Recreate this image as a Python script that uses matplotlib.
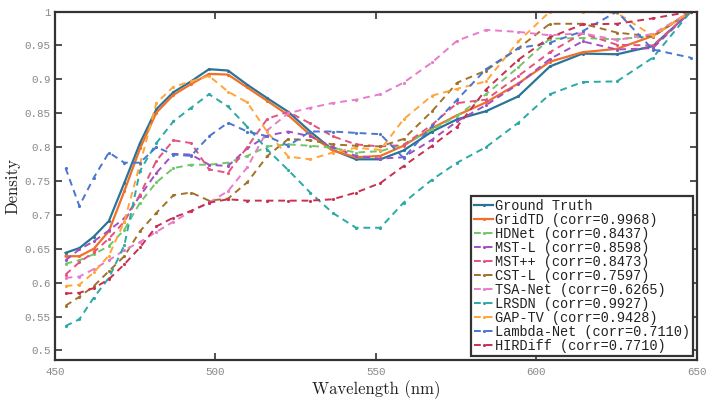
import matplotlib
matplotlib.use("Agg")
import matplotlib.pyplot as plt
from matplotlib.ticker import FixedLocator, FuncFormatter

wavelengths = [453.3, 457.6, 462.1, 466.8, 471.6, 476.5, 481.6, 486.9, 492.4, 498.0,
               503.9, 509.9, 516.2, 522.7, 529.5, 536.5, 543.8, 551.4, 558.6, 567.5,
               575.3, 584.3, 594.4, 604.2, 614.4, 625.1, 636.3, 648.1]

ground_truth = [0.644, 0.651, 0.668, 0.691, 0.747, 0.806, 0.856, 0.881, 0.897, 0.915,
                0.913, 0.892, 0.872, 0.852, 0.823, 0.796, 0.782, 0.782, 0.795, 0.823,
                0.841, 0.853, 0.875, 0.919, 0.938, 0.937, 0.949, 1.0]
gridtd = [0.639, 0.639, 0.650, 0.676, 0.735, 0.798, 0.851, 0.877, 0.893, 0.908,
          0.907, 0.888, 0.868, 0.847, 0.818, 0.795, 0.785, 0.787, 0.802, 0.828,
          0.847, 0.866, 0.894, 0.926, 0.940, 0.945, 0.964, 1.0]
hdnet = [0.628, 0.633, 0.642, 0.654, 0.678, 0.718, 0.748, 0.769, 0.774, 0.774,
         0.777, 0.787, 0.801, 0.804, 0.802, 0.799, 0.792, 0.794, 0.804, 0.826,
         0.846, 0.878, 0.918, 0.960, 0.961, 0.959, 0.964, 1.0]
mst_l = [0.633, 0.649, 0.661, 0.677, 0.695, 0.728, 0.762, 0.790, 0.789, 0.774,
         0.772, 0.798, 0.817, 0.823, 0.816, 0.800, 0.787, 0.783, 0.785, 0.811,
         0.838, 0.862, 0.893, 0.930, 0.956, 0.944, 0.946, 1.0]
mst_pp = [0.612, 0.630, 0.645, 0.665, 0.690, 0.730, 0.780, 0.810, 0.806, 0.767,
          0.762, 0.800, 0.842, 0.852, 0.835, 0.816, 0.804, 0.801, 0.803, 0.833,
          0.865, 0.870, 0.905, 0.940, 0.968, 0.951, 0.950, 1.0]
cst_l = [0.566, 0.579, 0.595, 0.617, 0.639, 0.676, 0.703, 0.729, 0.733, 0.721,
         0.724, 0.748, 0.787, 0.812, 0.810, 0.804, 0.802, 0.801, 0.812, 0.853,
         0.895, 0.913, 0.946, 0.982, 0.982, 0.969, 0.963, 1.0]
tsa_net = [0.607, 0.609, 0.620, 0.633, 0.648, 0.660, 0.675, 0.690, 0.705, 0.718,
           0.735, 0.770, 0.825, 0.850, 0.858, 0.865, 0.870, 0.878, 0.895, 0.925,
           0.957, 0.973, 0.970, 0.965, 0.968, 0.958, 0.967, 1.0]
lrsdn = [0.536, 0.546, 0.578, 0.607, 0.655, 0.765, 0.806, 0.838, 0.858, 0.878,
         0.860, 0.830, 0.796, 0.766, 0.733, 0.703, 0.681, 0.681, 0.718, 0.752,
         0.777, 0.800, 0.836, 0.878, 0.896, 0.897, 0.932, 1.0]
gap_tv = [0.595, 0.597, 0.615, 0.640, 0.690, 0.775, 0.865, 0.889, 0.897, 0.905,
          0.882, 0.866, 0.822, 0.786, 0.782, 0.792, 0.799, 0.796, 0.841, 0.876,
          0.886, 0.897, 0.956, 1.0, 1.0, 0.998, 0.964, 1.0]
lambda_net = [0.769, 0.713, 0.755, 0.792, 0.777, 0.777, 0.800, 0.789, 0.787, 0.816,
              0.836, 0.823, 0.816, 0.802, 0.823, 0.823, 0.821, 0.819, 0.784, 0.831,
              0.870, 0.915, 0.946, 0.954, 0.971, 1.0, 0.944, 0.932]
hirdiff = [0.584, 0.585, 0.592, 0.605, 0.627, 0.652, 0.683, 0.696, 0.706, 0.718,
           0.723, 0.721, 0.721, 0.721, 0.721, 0.723, 0.733, 0.747, 0.772, 0.802,
           0.830, 0.885, 0.929, 0.962, 0.981, 0.982, 0.990, 1.0]

labels = ["Ground Truth", "GridTD (corr=0.9968)", "HDNet (corr=0.8437)",
          "MST-L (corr=0.8598)", "MST++ (corr=0.8473)", "CST-L (corr=0.7597)",
          "TSA-Net (corr=0.6265)", "LRSDN (corr=0.9927)", "GAP-TV (corr=0.9428)",
          "Lambda-Net (corr=0.7110)", "HIRDiff (corr=0.7710)"]
series = [ground_truth, gridtd, hdnet, mst_l, mst_pp, cst_l, tsa_net, lrsdn,
          gap_tv, lambda_net, hirdiff]
colors = ["#2a7597", "#f26f2a", "#72c66a", "#a24fc6", "#e4527e", "#a0722a",
          "#e77ccb", "#2aa9a7", "#ffa53a", "#4a76cf", "#c7304f"]
styles = ["-", "-", "--", "--", "--", "--", "--", "--", "--", "--", "--"]

y_ticks = [0.5, 0.55, 0.6, 0.65, 0.7, 0.75, 0.8, 0.85, 0.9, 0.95, 1.0]
x_ticks = [450, 500, 550, 600, 650]

fig = plt.figure(figsize=(7.14, 3.99), dpi=100)
ax = fig.add_axes([0.077, 0.098, 0.899, 0.873])

for ys, lab, c, ls in zip(series, labels, colors, styles):
    lw = 1.6 if ls == "-" else 1.4
    ax.plot(wavelengths, ys, linestyle=ls, color=c, lw=lw, marker='.',
            markersize=2.5, label=lab, dashes=(3.5, 2.5) if ls == "--" else (None, None))

ax.set_xlim(450, 650)
ax.set_ylim(0.486, 1.0)
ax.xaxis.set_major_locator(FixedLocator(x_ticks))
ax.yaxis.set_major_locator(FixedLocator(y_ticks))
ax.yaxis.set_major_formatter(FuncFormatter(lambda v, p: "%g" % v))
ax.xaxis.set_major_formatter(FuncFormatter(lambda v, p: "%g" % v))

ax.tick_params(direction='in', length=5, width=1.2, top=True, right=True,
               colors='#333333', labelcolor='#888888', labelsize=7.8)
ax.tick_params(axis='x', pad=5)
ax.tick_params(axis='y', pad=3)
for lab in ax.get_xticklabels() + ax.get_yticklabels():
    lab.set_family('Liberation Mono')
for s in ax.spines.values():
    s.set_linewidth(1.6)
    s.set_color('#333333')

ax.set_xlabel("Wavelength (nm)", family='cmr10', fontsize=12, color='#222222')
ax.set_ylabel("Density", family='cmr10', fontsize=12, color='#222222')
ax.xaxis.set_label_coords(0.5, -0.058)
ax.yaxis.set_label_coords(-0.054, 0.5)

leg = ax.legend(loc='lower right', prop={'family': 'Liberation Mono', 'size': 9.8},
                handlelength=1.45, handletextpad=0.12, labelspacing=0.0,
                borderpad=0.2, borderaxespad=0.3, fancybox=False, framealpha=1,
                edgecolor='#333333')
leg.get_frame().set_linewidth(1.6)
for t in leg.get_texts():
    t.set_color('#222222')

fig.savefig("out.png", dpi=100)
